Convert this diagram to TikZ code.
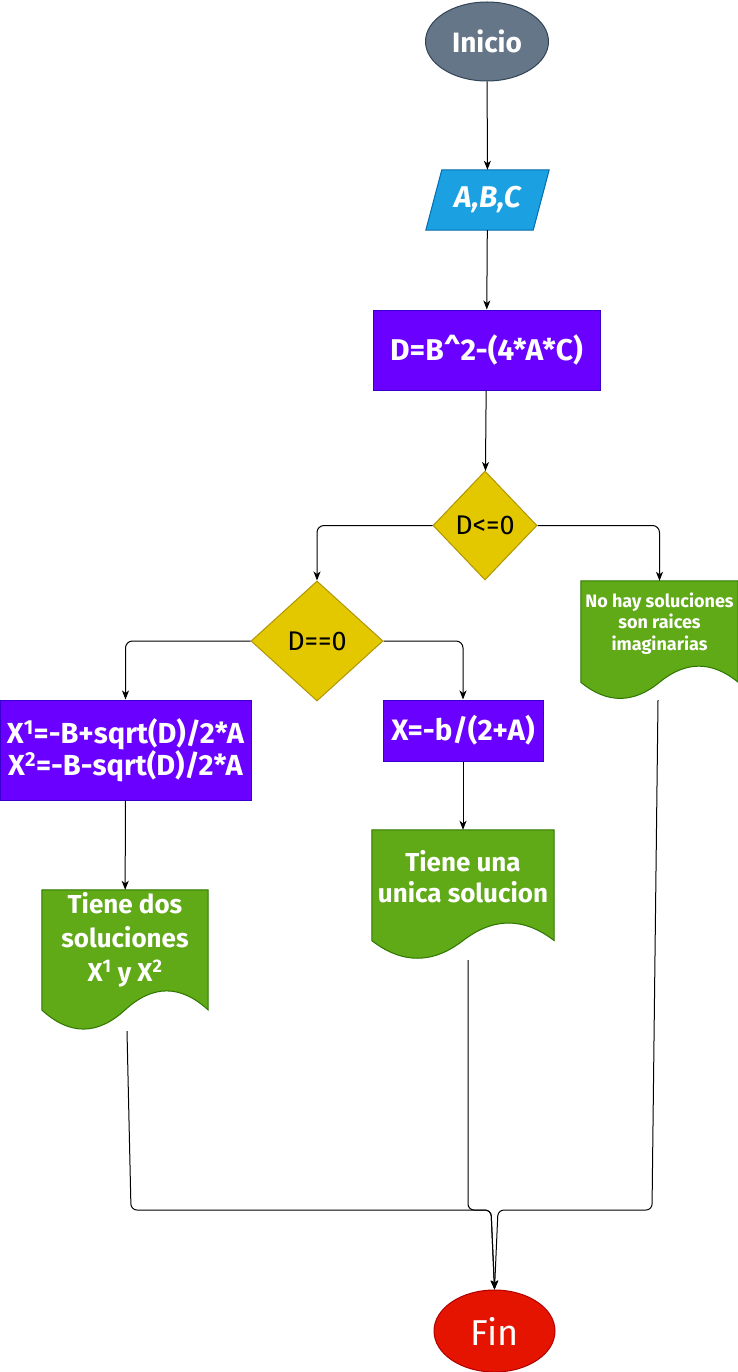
\documentclass[tikz,border=0pt]{standalone}
\usepackage{fontspec}
\setmainfont{Fira Sans}
\usetikzlibrary{shapes.geometric,arrows.meta,calc,backgrounds}
\definecolor{cGray}{HTML}{647687}\definecolor{cGrayS}{HTML}{314354}
\definecolor{cBlue}{HTML}{1BA1E2}\definecolor{cBlueS}{HTML}{006EAF}
\definecolor{cPurple}{HTML}{6A00FF}\definecolor{cPurpleS}{HTML}{3700CC}
\definecolor{cYellow}{HTML}{E3C800}\definecolor{cYellowS}{HTML}{B09500}
\definecolor{cGreen}{HTML}{60A917}\definecolor{cGreenS}{HTML}{2D7600}
\definecolor{cRed}{HTML}{E51400}\definecolor{cRedS}{HTML}{B20000}
\newcommand\docpath[1]{%
\begin{scope}[on background layer]
\path[docsty] let \p1=(#1.north west), \p2=(#1.south east), \n1={\x2-\x1}, \n2={\y1-\y2} in
 (\x1,\y1) -- (\x2,\y1) -- (\x2,{\y1-0.85*\n2})
 .. controls ({\x1+0.8333*\n1},{\y1-0.67*\n2}) and ({\x1+0.6667*\n1},{\y1-0.67*\n2}) .. ({\x1+0.5*\n1},{\y1-0.85*\n2})
 .. controls ({\x1+0.3333*\n1},{\y1-1.03*\n2}) and ({\x1+0.1667*\n1},{\y1-1.03*\n2}) .. (\x1,{\y1-0.85*\n2}) -- cycle;
\end{scope}}
\begin{document}
\begin{tikzpicture}[x=1pt,y=-1pt,
  conn/.style={draw=black,line width=1pt,-{Stealth[length=9pt,width=7pt,inset=2.5pt]}},
  term/.style={ellipse,inner sep=0pt,line width=1pt,text=white},
  proc/.style={rectangle,fill=cPurple,draw=cPurpleS,line width=1pt,inner sep=0pt,text=white,align=center},
  dec/.style={diamond,fill=cYellow,draw=cYellowS,line width=1pt,inner sep=0pt,text=black,
    font=\fontsize{27}{30}\selectfont},
  docbox/.style={rectangle,inner sep=0pt,draw=none},
  docsty/.style={fill=cGreen,draw=cGreenS,line width=1pt},
  doctext/.style={text=white,align=center,inner sep=0pt},
  parasty/.style={fill=cBlue,draw=cBlueS,line width=1pt}]
\useasboundingbox (0,0) rectangle (738,1372);

% terminals
\node[term,fill=cGray,draw=cGrayS,minimum width=123,minimum height=79,
  font=\bfseries\fontsize{28}{32}\selectfont] (ini) at (487,41.5) {Inicio};
\node[term,fill=cRed,draw=cRedS,minimum width=121,minimum height=82,
  font=\fontsize{36}{40}\selectfont] (fin) at (494.5,1331) {Fin};

% input parallelogram
\node[rectangle,inner sep=0pt,minimum width=123,minimum height=60,text=white,
  font=\bfseries\itshape\fontsize{30}{34}\selectfont] (abc) at (487.5,200) {A,B,C};
\begin{scope}[on background layer]
\path[parasty] (abc.south west) -- ($(abc.north west)+(16,0)$) -- (abc.north east) -- ($(abc.south east)+(-16,0)$) -- cycle;
\end{scope}

% process
\node[proc,minimum width=227,minimum height=80,font=\bfseries\fontsize{30}{34}\selectfont] (disc) at (486.5,350) {D=B\textasciicircum 2-(4*A*C)};

% decisions
\node[dec,minimum width=104,minimum height=109] (dle) at (485,525.5) {D<=0};
\node[dec,minimum width=132,minimum height=120] (deq) at (317,641) {D==0};

% processes
\node[proc,minimum width=251,minimum height=100,font=\bfseries\fontsize{29}{31}\selectfont] (x12) at (125.5,750)
  {X\textsuperscript{1}=-B+sqrt(D)/2*A\\X\textsuperscript{2}=-B-sqrt(D)/2*A};
\node[proc,minimum width=160,minimum height=61,font=\bfseries\fontsize{29.5}{33}\selectfont] (xb) at (463,730.5) {X=-b/(2+A)};

% documents
\node[docbox,minimum width=157,minimum height=119] (nohay) at (659.5,640.5) {};
\docpath{nohay}
\node[doctext,font=\bfseries\fontsize{18}{21.5}\selectfont] (nohayT) at (659.5,623.5)
  {No hay soluciones\\son raices\\imaginarias};

\node[docbox,minimum width=182,minimum height=130] (tuna) at (463,895) {};
\docpath{tuna}
\node[doctext,font=\bfseries\fontsize{26}{31}\selectfont] (tunaT) at (463,877)
  {Tiene una\\unica solucion};

\node[docbox,minimum width=166,minimum height=141] (tdos) at (125,960.5) {};
\docpath{tdos}
\node[doctext,font=\bfseries\fontsize{26}{34}\selectfont] (tdosT) at (125,940)
  {Tiene dos\\soluciones\\X\textsuperscript{1} y X\textsuperscript{2}};

% connectors
\draw[conn] (ini) -- (abc);
\draw[conn] (abc) -- (disc);
\draw[conn] (disc) -- (dle);
\draw[conn,rounded corners=7] (dle.west) -| (deq.north);
\draw[conn,rounded corners=7] (dle.east) -| (nohay.north);
\draw[conn,rounded corners=7] (deq.west) -| (x12.north);
\draw[conn,rounded corners=7] (deq.east) -| (xb.north);
\draw[conn] (x12) -- (tdos);
\draw[conn] (xb) -- (tuna);

\coordinate (l1) at ($(tdos.south)+(2,0)$);
\coordinate (l2) at (131,1210);
\coordinate (m1) at ($(tuna.south)+(5,0)$);
\coordinate (m2) at (468,1210);
\coordinate (r1) at ($(nohay.south)+(-1.5,0)$);
\coordinate (r2) at (652,1210);
\coordinate (jl) at (491,1210);
\coordinate (jr) at (498,1210);
\draw[conn,rounded corners=6] (l1) -- (l2) -- (jl) -- (fin.north);
\draw[conn,rounded corners=6] (m1) -- (m2) -- (jl) -- (fin.north);
\draw[conn,rounded corners=6] (r1) -- (r2) -- (jr) -- (fin.north);
\end{tikzpicture}
\end{document}
